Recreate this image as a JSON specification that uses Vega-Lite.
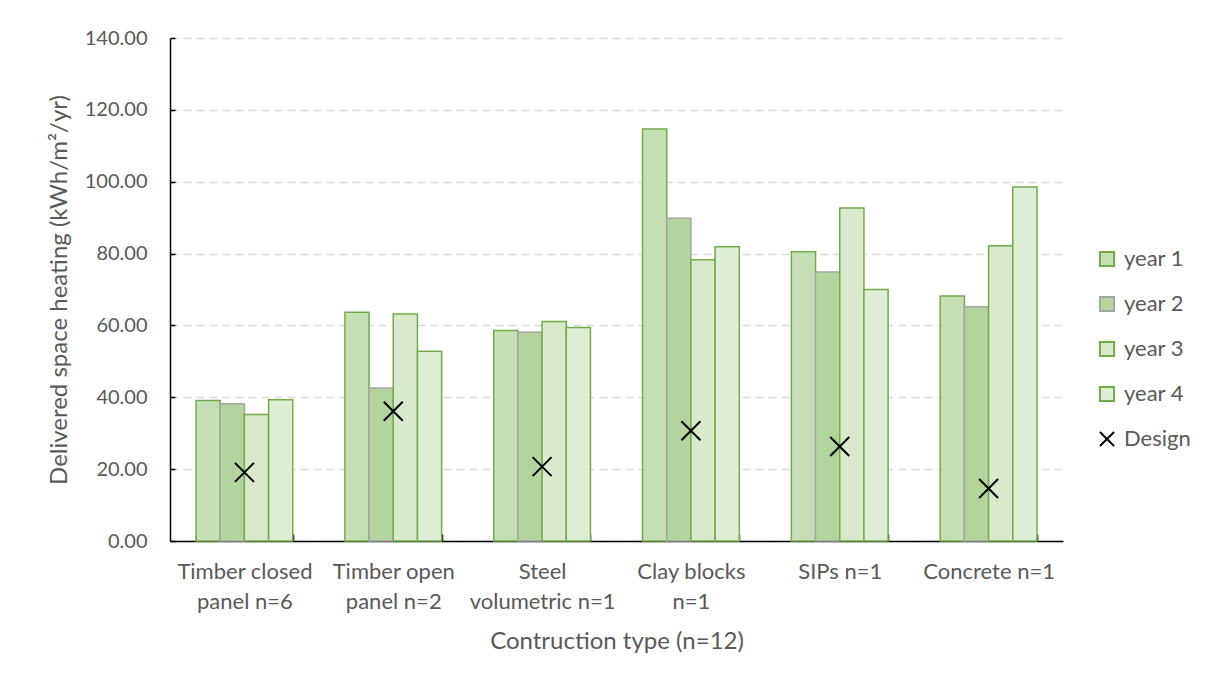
{
  "$schema": "https://vega.github.io/schema/vega-lite/v6.json",
  "autosize": {"type": "none"},
  "width": 893,
  "height": 503,
  "padding": {"left": 170, "top": 38, "right": 150, "bottom": 143},
  "background": "white",
  "config": {
    "font": "Lato",
    "view": {"stroke": null},
    "axis": {"labelColor": "#595959", "titleColor": "#595959", "titleFontWeight": "normal", "labelFont": "Lato", "titleFont": "Lato"}
  },
  "datasets": {
    "bars": [
      {"type": "Timber closed panel n=6", "series": "year 1", "value": 39.1},
      {"type": "Timber closed panel n=6", "series": "year 2", "value": 38.2},
      {"type": "Timber closed panel n=6", "series": "year 3", "value": 35.2},
      {"type": "Timber closed panel n=6", "series": "year 4", "value": 39.3},
      {"type": "Timber open panel n=2", "series": "year 1", "value": 63.7},
      {"type": "Timber open panel n=2", "series": "year 2", "value": 42.6},
      {"type": "Timber open panel n=2", "series": "year 3", "value": 63.2},
      {"type": "Timber open panel n=2", "series": "year 4", "value": 52.8},
      {"type": "Steel volumetric n=1", "series": "year 1", "value": 58.6},
      {"type": "Steel volumetric n=1", "series": "year 2", "value": 58.1},
      {"type": "Steel volumetric n=1", "series": "year 3", "value": 61.1},
      {"type": "Steel volumetric n=1", "series": "year 4", "value": 59.4},
      {"type": "Clay blocks n=1", "series": "year 1", "value": 114.7},
      {"type": "Clay blocks n=1", "series": "year 2", "value": 89.8},
      {"type": "Clay blocks n=1", "series": "year 3", "value": 78.3},
      {"type": "Clay blocks n=1", "series": "year 4", "value": 81.9},
      {"type": "SIPs n=1", "series": "year 1", "value": 80.5},
      {"type": "SIPs n=1", "series": "year 2", "value": 74.9},
      {"type": "SIPs n=1", "series": "year 3", "value": 92.7},
      {"type": "SIPs n=1", "series": "year 4", "value": 70.0},
      {"type": "Concrete n=1", "series": "year 1", "value": 68.2},
      {"type": "Concrete n=1", "series": "year 2", "value": 65.2},
      {"type": "Concrete n=1", "series": "year 3", "value": 82.2},
      {"type": "Concrete n=1", "series": "year 4", "value": 98.5}
    ],
    "design": [
      {"type": "Timber closed panel n=6", "design": 19.1},
      {"type": "Timber open panel n=2", "design": 36.1},
      {"type": "Steel volumetric n=1", "design": 20.7},
      {"type": "Clay blocks n=1", "design": 30.7},
      {"type": "SIPs n=1", "design": 26.3},
      {"type": "Concrete n=1", "design": 14.6}
    ]
  },
  "layer": [
    {
      "data": {"name": "bars"},
      "mark": {"type": "bar", "strokeWidth": 1.5},
      "encoding": {
        "x": {
          "field": "type", "type": "nominal",
          "sort": ["Timber closed panel n=6", "Timber open panel n=2", "Steel volumetric n=1", "Clay blocks n=1", "SIPs n=1", "Concrete n=1"],
          "scale": {"paddingInner": 0.35, "paddingOuter": 0.175},
          "axis": {
            "title": "Contruction type (n=12)",
            "titleFontSize": 24,
            "titlePadding": 17,
            "labelAngle": 0,
            "labelFontSize": 22,
            "labelLineHeight": 30,
            "labelPadding": 27,
            "labelExpr": "datum.value == 'Timber closed panel n=6' ? ['Timber closed', 'panel n=6'] : datum.value == 'Timber open panel n=2' ? ['Timber open', 'panel n=2'] : datum.value == 'Steel volumetric n=1' ? ['Steel', 'volumetric n=1'] : datum.value == 'Clay blocks n=1' ? ['Clay blocks', 'n=1'] : datum.value",
            "tickBand": "extent",
            "tickSize": -7,
            "tickColor": "black",
            "tickWidth": 1.5,
            "domainColor": "black",
            "domainWidth": 1.5
          }
        },
        "xOffset": {"field": "series", "type": "nominal", "scale": {"paddingInner": 0, "paddingOuter": 0}},
        "y": {
          "field": "value", "type": "quantitative",
          "scale": {"domain": [0, 140], "nice": false},
          "axis": {
            "title": "Delivered space heating (kWh/m²/yr)",
            "titleFontSize": 24,
            "titlePadding": 13,
            "values": [0, 20, 40, 60, 80, 100, 120, 140],
            "format": ".2f",
            "labelFontSize": 20,
            "labelPadding": 28,
            "tickSize": -5,
            "tickColor": "black",
            "tickWidth": 1.5,
            "domainColor": "black",
            "domainWidth": 1.5,
            "grid": true,
            "gridColor": "#D9D9D9",
            "gridDash": [8, 5],
            "gridWidth": 1.3
          }
        },
        "fill": {
          "field": "series", "type": "nominal",
          "scale": {"domain": ["year 1", "year 2", "year 3", "year 4", "Design"], "range": ["#C6DFB5", "#B4D49E", "#D8E9CC", "#DEEDD5", "#000000"]},
          "legend": {
            "title": null,
            "orient": "none",
            "legendX": 926,
            "legendY": 210,
            "labelFontSize": 22,
            "labelColor": "#595959",
            "labelFont": "Lato",
            "symbolSize": 200,
            "rowPadding": 21,
            "labelOffset": 6,
            "encode": {
              "symbols": {
                "update": {
                  "shape": {"signal": "datum.value === 'Design' ? 'M-1,-1L1,1M-1,1L1,-1' : 'square'"},
                  "stroke": {"signal": "datum.value === 'Design' ? 'black' : (datum.value === 'year 2' ? '#A5A5A5' : '#70AD47')"},
                  "strokeWidth": {"value": 2}
                }
              }
            }
          }
        },
        "stroke": {
          "field": "series", "type": "nominal",
          "scale": {"domain": ["year 1", "year 2", "year 3", "year 4"], "range": ["#70AD47", "#A5A5A5", "#70AD47", "#70AD47"]},
          "legend": null
        }
      }
    },
    {
      "data": {"name": "design"},
      "mark": {"type": "point", "shape": "M-1,-1L1,1M-1,1L1,-1", "filled": false, "stroke": "black", "strokeWidth": 2, "size": 360, "opacity": 1},
      "encoding": {
        "x": {"field": "type", "type": "nominal", "sort": ["Timber closed panel n=6", "Timber open panel n=2", "Steel volumetric n=1", "Clay blocks n=1", "SIPs n=1", "Concrete n=1"]},
        "y": {"field": "design", "type": "quantitative"}
      }
    }
  ]
}
